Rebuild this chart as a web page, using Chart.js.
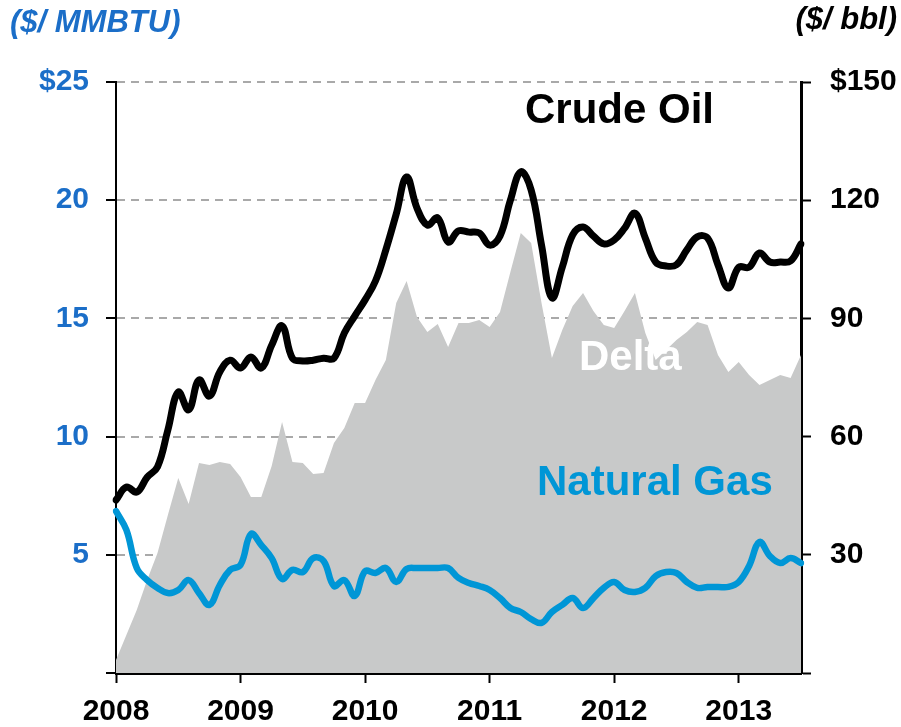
<!DOCTYPE html>
<html>
<head>
<meta charset="utf-8">
<script src="https://cdn.jsdelivr.net/npm/chart.js@4/dist/chart.umd.min.js"></script>
<style>
  html, body { margin: 0; padding: 0; background: #ffffff; }
  #wrap { width: 901px; height: 727px; position: relative; }
</style>
</head>
<body>
<div id="wrap"><canvas id="c" width="901" height="727"></canvas></div>
<script>
// ---- data (monthly, Jan 2008 .. Jul 2013) ----
const months = [
  '2008-01','2008-02','2008-03','2008-04','2008-05','2008-06','2008-07','2008-08','2008-09','2008-10','2008-11','2008-12',
  '2009-01','2009-02','2009-03','2009-04','2009-05','2009-06','2009-07','2009-08','2009-09','2009-10','2009-11','2009-12',
  '2010-01','2010-02','2010-03','2010-04','2010-05','2010-06','2010-07','2010-08','2010-09','2010-10','2010-11','2010-12',
  '2011-01','2011-02','2011-03','2011-04','2011-05','2011-06','2011-07','2011-08','2011-09','2011-10','2011-11','2011-12',
  '2012-01','2012-02','2012-03','2012-04','2012-05','2012-06','2012-07','2012-08','2012-09','2012-10','2012-11','2012-12',
  '2013-01','2013-02','2013-03','2013-04','2013-05','2013-06','2013-07'
];
// Crude oil, $/bbl (right axis)
const crudeOil = [
  43.9,47.2,45.9,49.7,52.3,61.7,71.3,66.8,74.4,70.3,76.4,79.4,
  77.4,80.2,77.4,83.2,88.1,79.9,79.2,79.4,79.9,79.9,86.3,90.6,
  94.7,99.5,107.4,116.5,125.9,118.0,113.7,115.5,109.4,112.2,111.9,111.7,
  108.6,110.9,120.0,127.2,122.6,108.6,95.2,103.0,111.2,113.2,110.9,108.9,
  109.9,112.9,116.7,110.4,104.3,103.3,103.6,107.4,110.7,110.4,103.6,97.7,
  103.0,103.0,106.6,104.3,104.3,104.6,108.9
];
// Natural gas, $/MMBTU (left axis)
const naturalGas = [
  6.85,6.05,4.44,3.93,3.60,3.38,3.51,3.93,3.38,2.88,3.72,4.36,
  4.57,5.88,5.41,4.86,3.98,4.36,4.27,4.86,4.74,3.68,3.93,3.26,
  4.31,4.23,4.44,3.85,4.40,4.44,4.44,4.44,4.44,4.02,3.81,3.68,
  3.51,3.17,2.75,2.58,2.28,2.12,2.58,2.88,3.17,2.75,3.17,3.60,
  3.85,3.51,3.43,3.60,4.10,4.27,4.23,3.85,3.60,3.64,3.64,3.64,
  3.85,4.53,5.54,4.95,4.65,4.86,4.65
];
// Delta (oil minus gas), $/MMBTU (left axis)
const delta = [
  0.55,1.61,2.66,3.93,5.08,6.68,8.25,7.15,8.88,8.80,8.93,8.84,
  8.29,7.45,7.45,8.76,10.62,8.93,8.88,8.42,8.46,9.73,10.36,11.42,
  11.42,12.39,13.24,15.65,16.58,15.06,14.42,14.76,13.79,14.81,14.81,14.93,
  14.64,15.27,16.96,18.61,18.19,15.65,13.32,14.51,15.52,16.07,15.31,14.72,
  14.59,15.31,16.07,14.38,13.24,13.66,14.09,14.42,14.85,14.72,13.45,12.73,
  13.16,12.61,12.18,12.39,12.61,12.48,13.45
];
const leftTickLabels = { 0: '', 5: '5', 10: '10', 15: '15', 20: '20', 25: '$25' };
const rightTickLabels = { 0: '', 30: '30', 60: '60', 90: '90', 120: '120', 150: '$150' };

const FONT = '"Liberation Sans", Arial, Helvetica, sans-serif';
const BLUE_AXIS = '#1b6ec8';
const GAS_BLUE = '#0096d6';

const textPlugin = {
  id: 'chartTexts',
  afterDraw(chart) {
    const ctx = chart.ctx;
    ctx.save();
    ctx.textAlign = 'left';
    ctx.textBaseline = 'alphabetic';
    ctx.font = 'bold 42px ' + FONT;
    ctx.fillStyle = '#000000';
    ctx.fillText('Crude Oil', 525, 123);
    ctx.fillStyle = '#ffffff';
    ctx.fillText('Delta', 579, 370);
    ctx.fillStyle = GAS_BLUE;
    ctx.fillText('Natural Gas', 537, 495);
    ctx.font = 'italic bold 31px ' + FONT;
    ctx.fillStyle = BLUE_AXIS;
    ctx.fillText('($/ MMBTU)', 10, 32);
    ctx.textAlign = 'right';
    ctx.fillStyle = '#000000';
    ctx.fillText('($/ bbl)', 897, 29);
    ctx.restore();
  }
};

new Chart(document.getElementById('c'), {
  type: 'line',
  data: {
    labels: months,
    datasets: [
      {
        label: 'Crude Oil',
        data: crudeOil,
        yAxisID: 'y2',
        borderColor: '#000000',
        borderWidth: 7,
        tension: 0.4,
        pointRadius: 0,
        fill: false,
        borderCapStyle: 'round',
        borderJoinStyle: 'round',
        order: 0
      },
      {
        label: 'Natural Gas',
        data: naturalGas,
        yAxisID: 'y',
        borderColor: GAS_BLUE,
        borderWidth: 6.5,
        tension: 0.4,
        pointRadius: 0,
        fill: false,
        borderCapStyle: 'round',
        borderJoinStyle: 'round',
        order: 1
      },
      {
        label: 'Delta',
        data: delta,
        yAxisID: 'y',
        borderWidth: 0,
        borderColor: 'rgba(0,0,0,0)',
        backgroundColor: '#c8c9c9',
        fill: 'origin',
        tension: 0,
        pointRadius: 0,
        order: 2
      }
    ]
  },
  options: {
    responsive: false,
    animation: false,
    layout: { padding: { top: 82, left: 0, right: 0, bottom: 0 } },
    plugins: { legend: { display: false }, tooltip: { enabled: false }, title: { display: false } },
    scales: {
      x: {
        type: 'category',
        offset: false,
        afterFit(scale) { scale.height = 54; },
        border: { display: true, color: '#000000', width: 3 },
        grid: {
          drawOnChartArea: false,
          drawTicks: true,
          tickLength: 10,
          tickColor: '#000000',
          tickWidth: 2,
          color: '#000000'
        },
        ticks: {
          autoSkip: false,
          maxRotation: 0,
          minRotation: 0,
          padding: 11,
          color: '#000000',
          font: { family: FONT, size: 30, weight: 'bold' },
          callback(value, index) {
            const m = months[index];
            return m.endsWith('-01') ? m.slice(0, 4) : null;
          }
        }
      },
      y: {
        type: 'linear',
        position: 'left',
        min: 0,
        max: 25,
        afterFit(scale) { scale.width = 116; },
        border: { display: true, color: '#000000', width: 2, dash: [8, 6] },
        grid: {
          color: (c) => (c.tick && c.tick.value === 0) ? 'rgba(0,0,0,0)' : '#a9a9a9',
          lineWidth: 2,
          drawTicks: true,
          tickLength: 10,
          tickColor: '#000000',
          tickWidth: 2,
          tickBorderDash: [0, 0]
        },
        ticks: {
          stepSize: 5,
          padding: 17,
          color: BLUE_AXIS,
          font: { family: FONT, size: 30, weight: 'bold' },
          callback(value) { return leftTickLabels[value] !== undefined ? leftTickLabels[value] : ''; }
        }
      },
      y2: {
        type: 'linear',
        position: 'right',
        min: 0,
        max: 150,
        afterFit(scale) { scale.width = 100; },
        border: { display: true, color: '#000000', width: 3 },
        grid: {
          drawOnChartArea: false,
          drawTicks: true,
          tickLength: 10,
          tickColor: '#000000',
          tickWidth: 2
        },
        ticks: {
          stepSize: 30,
          padding: 19,
          color: '#000000',
          font: { family: FONT, size: 30, weight: 'bold' },
          callback(value) { return rightTickLabels[value] !== undefined ? rightTickLabels[value] : ''; }
        }
      }
    }
  },
  plugins: [textPlugin]
});
</script>
</body>
</html>
